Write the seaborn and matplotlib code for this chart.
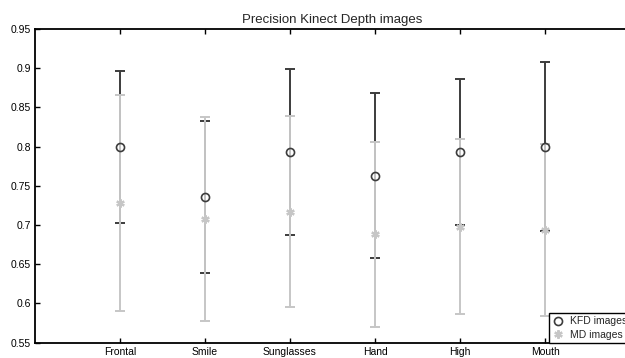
import numpy as np
import pandas as pd
import matplotlib
matplotlib.use("Agg")
import matplotlib.pyplot as plt
import seaborn as sns

categories = ["Frontal", "Smile", "Sunglasses", "Hand", "High", "Mouth"]
kfd_mean = [0.800, 0.736, 0.793, 0.763, 0.793, 0.800]
kfd_err = [0.097, 0.097, 0.106, 0.105, 0.093, 0.108]
md_mean = [0.728, 0.708, 0.717, 0.688, 0.698, 0.694]
md_err = [0.138, 0.130, 0.122, 0.118, 0.112, 0.110]
yticks = [0.55, 0.6, 0.65, 0.7, 0.75, 0.8, 0.85, 0.9, 0.95]
ytick_labels = ["0.55", "0.6", "0.65", "0.7", "0.75", "0.8", "0.85", "0.9", "0.95"]

sns.set_style("ticks")
plt.rcParams["font.family"] = ["Liberation Sans", "DejaVu Sans"]

dark = "#3c3c3c"
grey = "#c6c6c6"

df_kfd = pd.DataFrame({"cat": categories, "val": kfd_mean, "series": "KFD images"})
df_md = pd.DataFrame({"cat": categories, "val": md_mean, "series": "MD images"})

fig = plt.figure(figsize=(6.25, 3.58), dpi=100)
ax = fig.add_axes([35 / 625, 1 - 342.7 / 358, (630 - 35) / 625, (342.7 - 29) / 358])

x = np.arange(len(categories))
ax.errorbar(x, kfd_mean, yerr=kfd_err, fmt="none", ecolor=dark, elinewidth=1.4,
            capsize=3.3, capthick=1.4, zorder=2)
ax.errorbar(x, md_mean, yerr=md_err, fmt="none", ecolor=grey, elinewidth=1.4,
            capsize=3.3, capthick=1.4, zorder=3)

sns.pointplot(data=df_md, x="cat", y="val", order=categories, linestyle="none",
              marker=(6, 2, 0), color=grey, markersize=6, markeredgewidth=1.6,
              errorbar=None, ax=ax, label="MD images", zorder=4)
sns.pointplot(data=df_kfd, x="cat", y="val", order=categories, linestyle="none",
              marker="o", color=dark, markersize=5.8, markerfacecolor="none",
              markeredgewidth=1.2, errorbar=None, ax=ax, label="KFD images", zorder=5)

ax.set_xlim(-1, 6)
ax.set_ylim(0.55, 0.95)
ax.set_yticks(yticks)
ax.set_yticklabels(ytick_labels)
ax.set_xlabel("")
ax.set_ylabel("")
ax.set_title("Precision Kinect Depth images", fontsize=9.5, pad=4)

for s in ax.spines.values():
    s.set_visible(True)
    s.set_linewidth(1.3)
    s.set_color("black")
ax.tick_params(direction="in", length=3.5, width=1.0, labelsize=7.5,
               top=True, right=True, colors="black", pad=3)

handles, labels = ax.get_legend_handles_labels()
order = [labels.index("KFD images"), labels.index("MD images")]
leg = ax.legend([handles[i] for i in order], [labels[i] for i in order],
                loc="lower right", bbox_to_anchor=(1.0, 0.0), fontsize=7.5,
                frameon=True, fancybox=False, edgecolor="black", framealpha=1,
                borderpad=0.3, handletextpad=0.6, labelspacing=0.3,
                handlelength=1.1, borderaxespad=0.0)
leg.get_frame().set_linewidth(1.0)

fig.savefig("out.png", dpi=100)
